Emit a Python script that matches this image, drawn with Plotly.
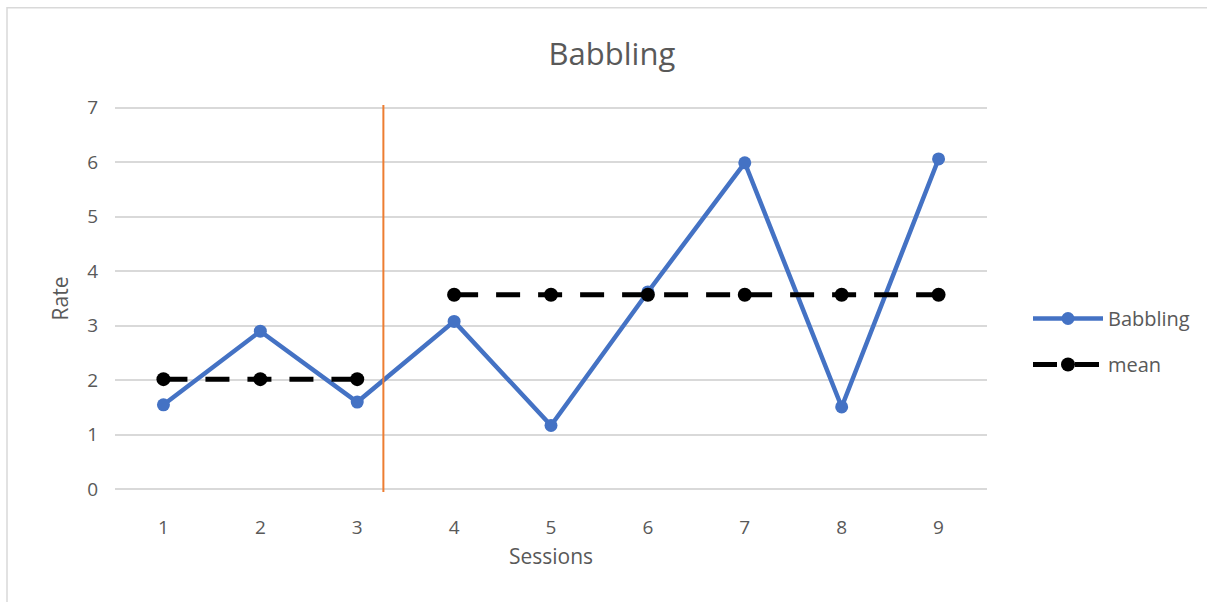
import plotly.graph_objects as go

# Session data
sessions = [1, 2, 3, 4, 5, 6, 7, 8, 9]
babbling = [1.55, 2.9, 1.6, 3.08, 1.17, 3.62, 5.99, 1.51, 6.06]

# Phase means (baseline: sessions 1-3, intervention: sessions 4-9)
mean_sessions = [1, 2, 3, None, 4, 5, 6, 7, 8, 9]
mean_values = [2.02, 2.02, 2.02, None, 3.57, 3.57, 3.57, 3.57, 3.57, 3.57]

# Phase change marker between sessions 3 and 4
phase_change = 3.27

y_ticks = [0, 1, 2, 3, 4, 5, 6, 7]

TEXT = "#595959"
FONT = "Open Sans, Liberation Sans, sans-serif"

fig = go.Figure()

fig.add_trace(go.Scatter(
    x=sessions, y=babbling, name="Babbling", mode="lines+markers",
    legendgroup="a",
    line=dict(color="#4472C4", width=4.5),
    marker=dict(color="#4472C4", size=13),
))

fig.add_trace(go.Scatter(
    x=mean_sessions, y=mean_values, name="mean", mode="lines+markers",
    legendgroup="b",
    line=dict(color="#000000", width=5, dash="24px,18px"),
    marker=dict(color="#000000", size=14),
    connectgaps=False,
))

# Phase change line
fig.add_shape(type="line", xref="x", yref="y",
              x0=phase_change, x1=phase_change, y0=-0.05, y1=7.05,
              line=dict(color="#ED7D31", width=2), layer="above")

# Chart outline
fig.add_shape(type="rect", xref="paper", yref="paper",
              x0=-108 / 872, x1=1.4, y0=-0.6, y1=1 + 97 / 386,
              line=dict(color="#D9D9D9", width=1.5), layer="below")

fig.update_layout(
    width=1207, height=602,
    margin=dict(l=115, r=220, t=105, b=110),
    paper_bgcolor="white", plot_bgcolor="white",
    font=dict(family=FONT, color=TEXT, size=19),
    title=dict(text="Babbling", x=0.507, xanchor="center",
               y=1 - 54 / 602, yanchor="middle",
               font=dict(size=31, color=TEXT, family=FONT)),
    xaxis=dict(range=[0.5, 9.5], tickvals=sessions, ticktext=[str(s) for s in sessions],
               showgrid=False, zeroline=False, showline=False, ticks="",
               tickfont=dict(size=19, color=TEXT), ticklabelstandoff=22,
               title=dict(text="Sessions", font=dict(size=21, color=TEXT), standoff=10)),
    yaxis=dict(range=[-0.05, 7.05], tickvals=y_ticks, showgrid=True, gridcolor="#D9D9D9",
               gridwidth=1.5, zeroline=False, showline=False, ticks="",
               tickfont=dict(size=19, color=TEXT), ticklabelstandoff=16,
               title=dict(text="Rate", font=dict(size=21, color=TEXT), standoff=12)),
    legend=dict(x=1028 / 1207, xref="container", y=1 - 299 / 602, yref="container",
                yanchor="top", xanchor="left",
                font=dict(size=20, color=TEXT), itemwidth=70,
                tracegroupgap=17, bgcolor="rgba(0,0,0,0)"),
    showlegend=True,
)

fig.write_html("out.html")
